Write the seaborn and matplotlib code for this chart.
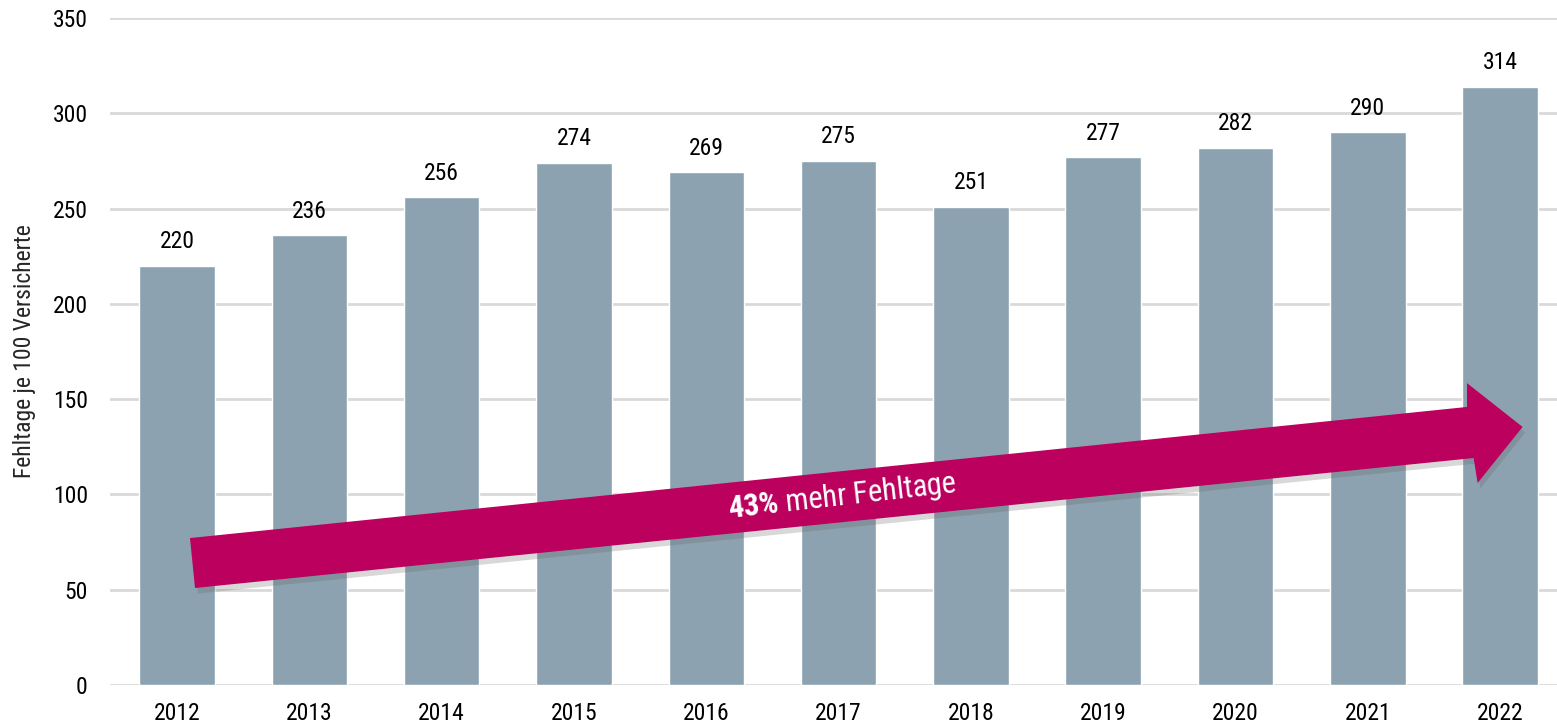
import matplotlib
matplotlib.use('Agg')
import matplotlib.pyplot as plt
import matplotlib.patheffects as pe
from matplotlib.patches import Polygon
import seaborn as sns
import pandas as pd

# Daten: Fehltage je 100 Versicherte
jahre = ['2012', '2013', '2014', '2015', '2016', '2017', '2018', '2019', '2020', '2021', '2022']
fehltage = [220, 236, 256, 274, 269, 275, 251, 277, 282, 290, 314]

df = pd.DataFrame({'Jahr': jahre, 'Fehltage': fehltage})

sns.set_theme(style='white')
schrift = 'Roboto Condensed'
plt.rcParams['font.family'] = [schrift, 'Liberation Sans', 'DejaVu Sans']
plt.rcParams['mathtext.fontset'] = 'custom'
plt.rcParams['mathtext.rm'] = schrift
plt.rcParams['mathtext.bf'] = schrift + ':bold'

fig = plt.figure(figsize=(15.57, 7.26), dpi=100)
ax = fig.add_axes([0.0707, 0.0565, 0.9293, 0.9187])

sns.barplot(data=df, x='Jahr', y='Fehltage', color='#8ca2b0', saturation=1,
            width=0.57, ax=ax, zorder=2)

ax.bar_label(ax.containers[0], fmt='%d', padding=9, fontsize=17, color='black')

ax.set_ylim(0, 350)
ax.set_yticks(range(0, 351, 50))
ax.set_xlim(-0.506, 10.43)
ax.yaxis.grid(True, color='#d9d9d9', linewidth=2, zorder=0)
ax.set_axisbelow(True)
for s in ax.spines.values():
    s.set_visible(False)
ax.tick_params(axis='both', length=0, labelsize=17, colors='black')
ax.tick_params(axis='y', pad=16)
ax.tick_params(axis='x', pad=12)
ax.set_xlabel('')
ax.set_ylabel('Fehltage je 100 Versicherte', fontsize=17, labelpad=12)

# Pfeil "43% mehr Fehltage"
pfeil = [(0.098, 77.1), (9.75, 145.9), (9.75, 158.4), (10.17, 135.4),
         (9.83, 106.0), (9.80, 119.1), (0.136, 50.9)]
arrow = Polygon(pfeil, closed=True, facecolor='#bb005e', edgecolor='none', zorder=5,
                path_effects=[pe.SimplePatchShadow(offset=(2, -4), shadow_rgbFace='#666666', alpha=0.25),
                              pe.Normal()])
ax.add_patch(arrow)

ax.text(5.03, 99, r'$\mathbf{43\%}$ mehr Fehltage', fontsize=22, color='white', rotation=6.5,
        ha='center', va='center', rotation_mode='anchor', zorder=6)

fig.savefig('out.png', dpi=100)
